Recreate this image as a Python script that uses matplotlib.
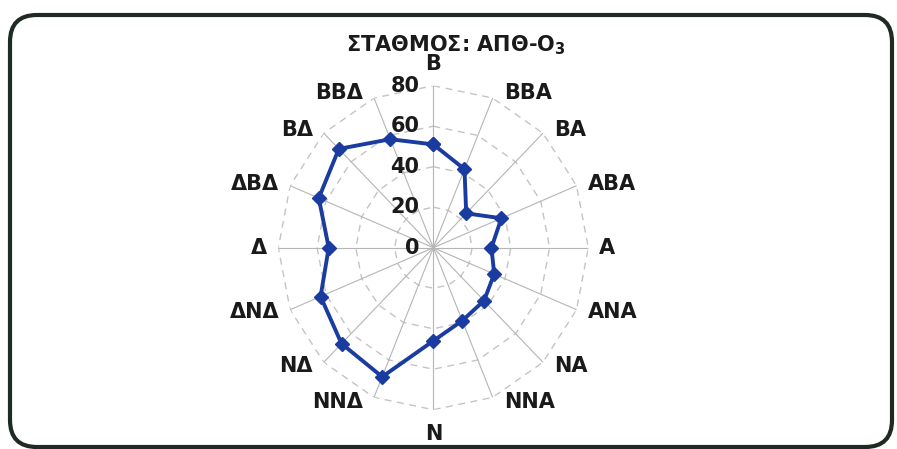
import numpy as np
import matplotlib.pyplot as plt
from matplotlib.patches import FancyBboxPatch

directions = ["Β", "ΒΒΑ", "ΒΑ", "ΑΒΑ", "Α", "ΑΝΑ", "ΝΑ", "ΝΝΑ",
              "Ν", "ΝΝΔ", "ΝΔ", "ΔΝΔ", "Δ", "ΔΒΔ", "ΒΔ", "ΒΒΔ"]
values = [51, 42, 24, 38, 30, 34, 37, 39, 46, 69, 67, 63, 54, 64, 69, 58]
rings = [20, 40, 60, 80]
ring_labels = ["0", "20", "40", "60", "80"]
title = "ΣΤΑΘΜΟΣ: ΑΠΘ-Ο$_\\mathbf{3}$"

plt.rcParams['font.family'] = ['DejaVu Sans']
plt.rcParams['font.weight'] = 'bold'

fig = plt.figure(figsize=(8.97, 4.49), dpi=100)
ax = fig.add_axes([0.3103, 0.0875, 0.3456, 0.7216], projection='polar')
ax.set_aspect('auto')
ax.set_theta_zero_location('N')
ax.set_theta_direction(-1)
ax.set_ylim(0, 80)

theta = np.linspace(0, 2*np.pi, len(directions), endpoint=False)
closed = np.append(theta, theta[0])

# spokes
ax.set_xticks(theta)
ax.set_xticklabels([])
ax.xaxis.grid(True, color='#b5b5b5', lw=0.8, ls='-')
ax.yaxis.grid(False)
ax.set_yticks([])
ax.spines['polar'].set_visible(False)

# dashed polygon rings
for r in rings:
    ax.plot(closed, [r]*len(closed), color='#c4c4c4', lw=1.0, ls=(0, (5, 4)), zorder=1)

# data
ax.plot(closed, values + values[:1], color='#1a3ca0', lw=2.8, marker='D', ms=7, zorder=3)

# direction labels
for t, lab in zip(theta, directions):
    s, c = np.sin(t), np.cos(t)
    if abs(s) < 0.1:
        ha = 'center'
        va = 'bottom' if c > 0 else 'top'
        dx, dy = 0, (12 if c > 0 else -14)
    else:
        ha = 'left' if s > 0 else 'right'
        va = 'center'
        dx, dy = (11 if s > 0 else -11), 5*c
    ax.annotate(lab, xy=(t, 80), xytext=(dx*0.72, dy*0.72), textcoords='offset points',
                ha=ha, va=va, fontsize=15, fontweight='bold', color='#1a1a1a',
                annotation_clip=False)

# radial labels
for i, lab in enumerate(ring_labels):
    ax.annotate(lab, xy=(0, i*20), xytext=(-10, 0), textcoords='offset points',
                ha='right', va='center', fontsize=15, fontweight='bold', color='#1a1a1a',
                annotation_clip=False)

fig.text(0.508, 1 - 45/449, title, ha='center', va='center', fontsize=15,
         fontweight='bold', color='#1a1a1a')

frame = FancyBboxPatch((10/897, 2/449), 882/897, 432/449,
                       boxstyle="round,pad=0,rounding_size=0.03", mutation_aspect=897/449,
                       transform=fig.transFigure, fill=False, ec='#1e2a22', lw=3)
fig.patches.append(frame)

fig.savefig('out.png', dpi=100)
